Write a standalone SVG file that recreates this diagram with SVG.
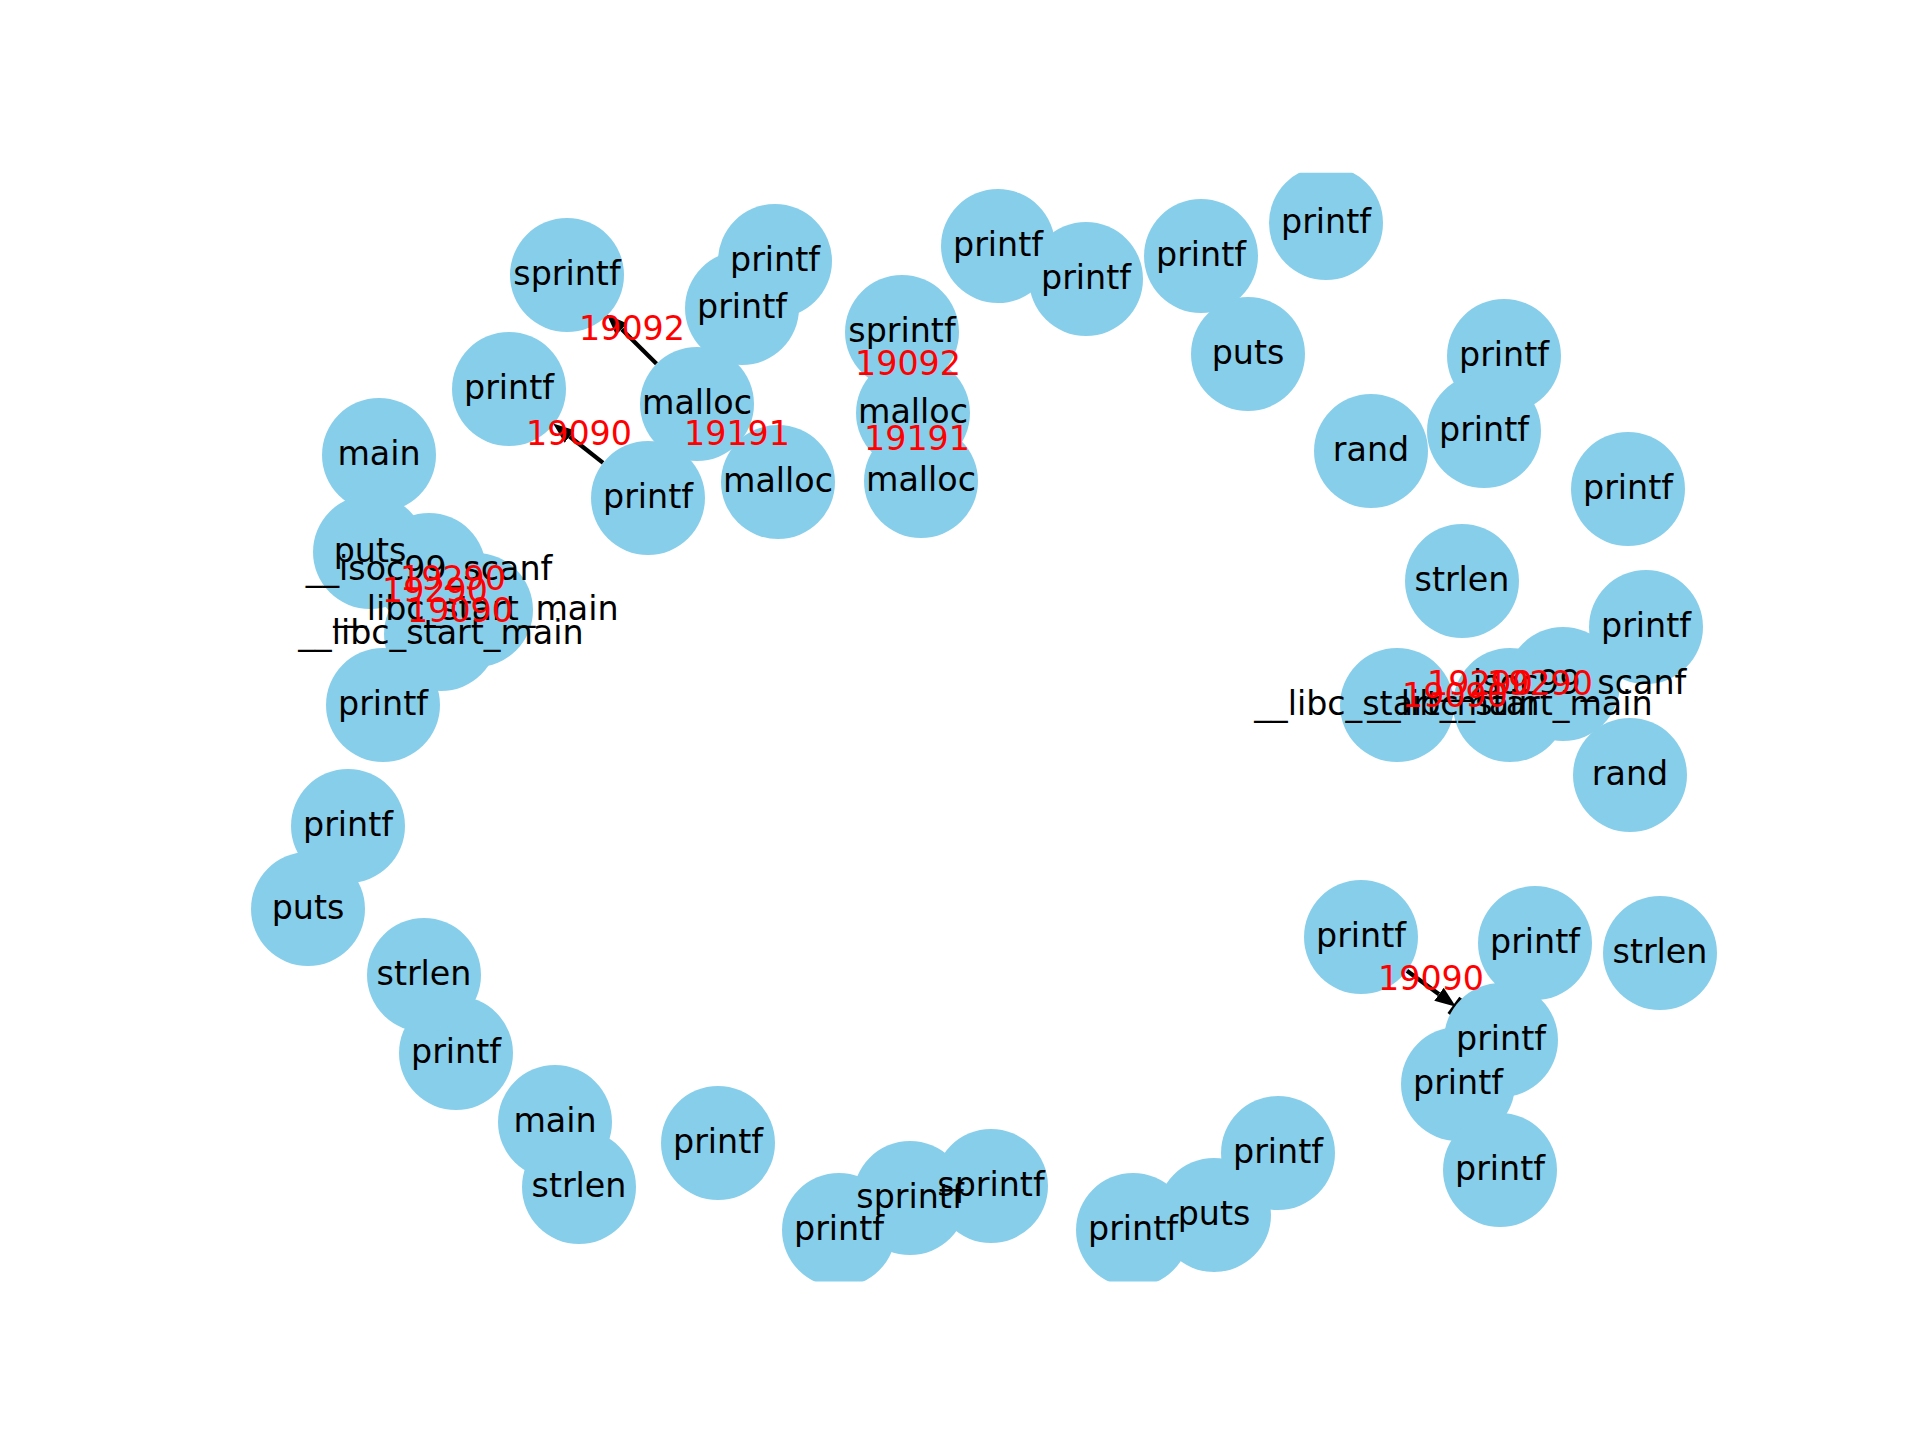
<svg xmlns="http://www.w3.org/2000/svg" width="1920" height="1440" viewBox="0 0 1920 1440">
<style>
.node circle { fill: #87CEEB; }
.nl { font-family: "DejaVu Sans", "Liberation Sans", sans-serif; font-size: 33.3px; fill: #000000; text-anchor: middle; }
.el { font-family: "DejaVu Sans", "Liberation Sans", sans-serif; font-size: 33.3px; fill: #FF0000; text-anchor: middle; }
.edge { stroke: #000000; stroke-width: 4.2; fill: none; }
.bar { stroke: #000000; stroke-width: 4.2; }
</style>
<defs>
<clipPath id="axes"><rect x="240" y="172.8" width="1488" height="1108.8"/></clipPath>
<marker id="arrow" markerUnits="userSpaceOnUse" viewBox="0 0 22 20" markerWidth="22" markerHeight="20" refX="0" refY="10" orient="auto">
<path d="M0,2 L21,10 L0,18 z" fill="#000000"/>
</marker>
</defs>
<rect x="0" y="0" width="1920" height="1440" fill="#ffffff"/>

<g id="connectors" clip-path="url(#axes)">
<line id="e1" class="edge" x1="656.5" y1="363.8" x2="621.7" y2="329.3" marker-end="url(#arrow)"/>
<line id="e2" class="edge" x1="603.1" y1="462.8" x2="569.6" y2="436.5" marker-end="url(#arrow)"/>
<line id="e3" class="edge" x1="697" y1="404" x2="778" y2="482" marker-end="url(#arrow)"/>
<line id="e4" class="edge" x1="913" y1="413" x2="902" y2="332" marker-end="url(#arrow)"/>
<line id="e5" class="edge" x1="913" y1="413" x2="921" y2="481" marker-end="url(#arrow)"/>
<line id="e6" class="edge" x1="476" y1="610" x2="429" y2="570" marker-end="url(#arrow)"/>
<line id="e7" class="edge" x1="441" y1="634" x2="429" y2="570" marker-end="url(#arrow)"/>
<line id="e8" class="edge" x1="441" y1="634" x2="476" y2="610" marker-end="url(#arrow)"/>
<line id="e9" class="edge" x1="1397" y1="705" x2="1510" y2="705" marker-end="url(#arrow)"/>
<line id="e10" class="edge" x1="1397" y1="705" x2="1563" y2="684" marker-end="url(#arrow)"/>
<line id="e11" class="edge" x1="1510" y1="705" x2="1563" y2="684" marker-end="url(#arrow)"/>
<line id="e12" class="edge" x1="1406.9" y1="970.8" x2="1439.0" y2="994.3" marker-end="url(#arrow)"/>
<line class="bar" x1="1449.2" y1="1014.3" x2="1461.0" y2="998.1"/>
</g>

<g id="nodes" clip-path="url(#axes)">
<g id="n01" class="node"><circle cx="567" cy="275" r="57"/></g>
<g id="n02" class="node"><circle cx="775" cy="261" r="57"/></g>
<g id="n03" class="node"><circle cx="742" cy="308" r="57"/></g>
<g id="n04" class="node"><circle cx="697" cy="404" r="57"/></g>
<g id="n05" class="node"><circle cx="509" cy="389" r="57"/></g>
<g id="n06" class="node"><circle cx="648" cy="498" r="57"/></g>
<g id="n07" class="node"><circle cx="778" cy="482" r="57"/></g>
<g id="n08" class="node"><circle cx="902" cy="332" r="57"/></g>
<g id="n09" class="node"><circle cx="913" cy="413" r="57"/></g>
<g id="n10" class="node"><circle cx="921" cy="481" r="57"/></g>
<g id="n11" class="node"><circle cx="998" cy="246" r="57"/></g>
<g id="n12" class="node"><circle cx="1086" cy="279" r="57"/></g>
<g id="n13" class="node"><circle cx="1201" cy="256" r="57"/></g>
<g id="n14" class="node"><circle cx="1326" cy="223" r="57"/></g>
<g id="n15" class="node"><circle cx="1248" cy="354" r="57"/></g>
<g id="n16" class="node"><circle cx="1371" cy="451" r="57"/></g>
<g id="n17" class="node"><circle cx="1504" cy="356" r="57"/></g>
<g id="n18" class="node"><circle cx="1484" cy="431" r="57"/></g>
<g id="n19" class="node"><circle cx="1628" cy="489" r="57"/></g>
<g id="n20" class="node"><circle cx="1462" cy="581" r="57"/></g>
<g id="n21" class="node"><circle cx="1646" cy="627" r="57"/></g>
<g id="n22" class="node"><circle cx="1563" cy="684" r="57"/></g>
<g id="n23" class="node"><circle cx="1397" cy="705" r="57"/></g>
<g id="n24" class="node"><circle cx="1510" cy="705" r="57"/></g>
<g id="n25" class="node"><circle cx="1630" cy="775" r="57"/></g>
<g id="n26" class="node"><circle cx="1361" cy="937" r="57"/></g>
<g id="n27" class="node"><circle cx="1535" cy="943" r="57"/></g>
<g id="n28" class="node"><circle cx="1660" cy="953" r="57"/></g>
<g id="n29" class="node"><circle cx="1501" cy="1040" r="57"/></g>
<g id="n30" class="node"><circle cx="1458" cy="1084" r="57"/></g>
<g id="n31" class="node"><circle cx="1500" cy="1170" r="57"/></g>
<g id="n32" class="node"><circle cx="1278" cy="1153" r="57"/></g>
<g id="n33" class="node"><circle cx="1214" cy="1215" r="57"/></g>
<g id="n34" class="node"><circle cx="1133" cy="1230" r="57"/></g>
<g id="n35" class="node"><circle cx="991" cy="1186" r="57"/></g>
<g id="n36" class="node"><circle cx="910" cy="1198" r="57"/></g>
<g id="n37" class="node"><circle cx="839" cy="1230" r="57"/></g>
<g id="n38" class="node"><circle cx="718" cy="1143" r="57"/></g>
<g id="n39" class="node"><circle cx="579" cy="1187" r="57"/></g>
<g id="n40" class="node"><circle cx="555" cy="1122" r="57"/></g>
<g id="n41" class="node"><circle cx="456" cy="1053" r="57"/></g>
<g id="n42" class="node"><circle cx="424" cy="975" r="57"/></g>
<g id="n43" class="node"><circle cx="308" cy="909" r="57"/></g>
<g id="n44" class="node"><circle cx="348" cy="826" r="57"/></g>
<g id="n45" class="node"><circle cx="383" cy="705" r="57"/></g>
<g id="n46" class="node"><circle cx="379" cy="455" r="57"/></g>
<g id="n47" class="node"><circle cx="370" cy="552" r="57"/></g>
<g id="n48" class="node"><circle cx="429" cy="570" r="57"/></g>
<g id="n49" class="node"><circle cx="476" cy="610" r="57"/></g>
<g id="n50" class="node"><circle cx="441" cy="634" r="57"/></g>
</g>

<g id="node-labels">
<text id="n01-label" class="nl" x="567" y="285">sprintf</text>
<text id="n02-label" class="nl" x="775" y="271">printf</text>
<text id="n03-label" class="nl" x="742" y="318">printf</text>
<text id="n04-label" class="nl" x="697" y="414">malloc</text>
<text id="n05-label" class="nl" x="509" y="399">printf</text>
<text id="n06-label" class="nl" x="648" y="508">printf</text>
<text id="n07-label" class="nl" x="778" y="492">malloc</text>
<text id="n08-label" class="nl" x="902" y="342">sprintf</text>
<text id="n09-label" class="nl" x="913" y="423">malloc</text>
<text id="n10-label" class="nl" x="921" y="491">malloc</text>
<text id="n11-label" class="nl" x="998" y="256">printf</text>
<text id="n12-label" class="nl" x="1086" y="289">printf</text>
<text id="n13-label" class="nl" x="1201" y="266">printf</text>
<text id="n14-label" class="nl" x="1326" y="233">printf</text>
<text id="n15-label" class="nl" x="1248" y="364">puts</text>
<text id="n16-label" class="nl" x="1371" y="461">rand</text>
<text id="n17-label" class="nl" x="1504" y="366">printf</text>
<text id="n18-label" class="nl" x="1484" y="441">printf</text>
<text id="n19-label" class="nl" x="1628" y="499">printf</text>
<text id="n20-label" class="nl" x="1462" y="591">strlen</text>
<text id="n21-label" class="nl" x="1646" y="637">printf</text>
<text id="n22-label" class="nl" x="1563" y="694">__isoc99_scanf</text>
<text id="n23-label" class="nl" x="1397" y="715">__libc_start_main</text>
<text id="n24-label" class="nl" x="1510" y="715">__libc_start_main</text>
<text id="n25-label" class="nl" x="1630" y="785">rand</text>
<text id="n26-label" class="nl" x="1361" y="947">printf</text>
<text id="n27-label" class="nl" x="1535" y="953">printf</text>
<text id="n28-label" class="nl" x="1660" y="963">strlen</text>
<text id="n29-label" class="nl" x="1501" y="1050">printf</text>
<text id="n30-label" class="nl" x="1458" y="1094">printf</text>
<text id="n31-label" class="nl" x="1500" y="1180">printf</text>
<text id="n32-label" class="nl" x="1278" y="1163">printf</text>
<text id="n33-label" class="nl" x="1214" y="1225">puts</text>
<text id="n34-label" class="nl" x="1133" y="1240">printf</text>
<text id="n35-label" class="nl" x="991" y="1196">sprintf</text>
<text id="n36-label" class="nl" x="910" y="1208">sprintf</text>
<text id="n37-label" class="nl" x="839" y="1240">printf</text>
<text id="n38-label" class="nl" x="718" y="1153">printf</text>
<text id="n39-label" class="nl" x="579" y="1197">strlen</text>
<text id="n40-label" class="nl" x="555" y="1132">main</text>
<text id="n41-label" class="nl" x="456" y="1063">printf</text>
<text id="n42-label" class="nl" x="424" y="985">strlen</text>
<text id="n43-label" class="nl" x="308" y="919">puts</text>
<text id="n44-label" class="nl" x="348" y="836">printf</text>
<text id="n45-label" class="nl" x="383" y="715">printf</text>
<text id="n46-label" class="nl" x="379" y="465">main</text>
<text id="n47-label" class="nl" x="370" y="562">puts</text>
<text id="n48-label" class="nl" x="429" y="580">__isoc99_scanf</text>
<text id="n49-label" class="nl" x="476" y="620">__libc_start_main</text>
<text id="n50-label" class="nl" x="441" y="644">__libc_start_main</text>
</g>

<g id="edge-labels">
<text class="el" x="632" y="340">19092</text>
<text class="el" x="579" y="445">19090</text>
<text class="el" x="737" y="445">19191</text>
<text class="el" x="908" y="375">19092</text>
<text class="el" x="917" y="450">19191</text>
<text class="el" x="453" y="590">19290</text>
<text class="el" x="435" y="602">19290</text>
<text class="el" x="460" y="622">19090</text>
<text class="el" x="1455" y="707">19090</text>
<text class="el" x="1480" y="695">19290</text>
<text class="el" x="1540" y="695">19290</text>
<text class="el" x="1431" y="990">19090</text>
</g>
</svg>
